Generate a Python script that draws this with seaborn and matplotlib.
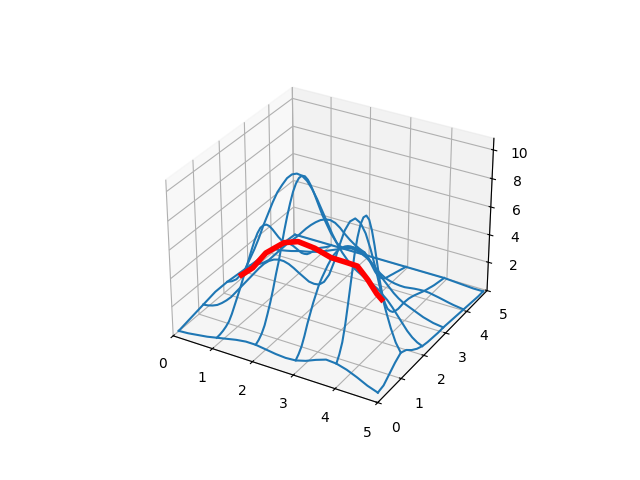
import numpy as np
import matplotlib
matplotlib.use('Agg')
import matplotlib.pyplot as plt
import seaborn as sns

# where the wires sit
wire_x = [0.15, 1.12, 2.09, 3.06, 4.03, 5]
wire_y = [0, 0.96, 1.92, 2.88, 3.84, 4.8]

# wires at constant x, height read along y
x_wires = [
    [.4, .5, .6, .7, .8, .9, 1.0, 1.0, 1.0, .95, .9, .85, .8, .75, .7, .65, .6, .5, .4, .35, .3],
    [.8, .83, .9, 1.02, 1.2, 1.55, 2.0, 2.45, 2.9, 3.4, 3.9, 4.4, 4.9, 5.35, 5.7, 5.9, 5.9, 5.78, 5.5, 5.1, 4.65,
     4.2, 3.8, 3.45, 3.2, 3.0, 2.7, 2.35, 2.0, 1.65, 1.4, 1.2, 1.1, 1.05, 1.0, .9, .8, .65, .5, .38, .3],
    [1.2, 1.35, 1.6, 2.0, 2.6, 3.25, 4.0, 4.85, 5.6, 6.5, 7.4, 8.2, 8.9, 9.5, 9.9, 10.1, 10.1, 9.9, 9.5, 8.95, 8.3,
     7.6, 6.9, 6.2, 5.6, 5.0, 4.4, 3.9, 3.4, 3.0, 2.7, 2.45, 2.3, 2.15, 2.0, 1.78, 1.5, 1.15, .8, .5, .3],
    [1.0, 1.25, 1.6, 2.15, 2.8, 3.35, 3.9, 4.35, 4.8, 5.1, 5.35, 5.6, 5.8, 5.95, 6.0, 6.0, 5.95, 5.85, 5.7, 5.5, 5.25,
     4.95, 4.7, 4.45, 4.2, 3.75, 3.2, 2.65, 2.1, 1.65, 1.3, 1.05, .9, .82, .75, .67, .6, .52, .45, .37, .3],
    [1.7, 2.15, 2.8, 3.85, 5.2, 6.6, 8.0, 9.0, 9.7, 10.0, 9.95, 9.5, 8.6, 7.4, 6.0, 4.65, 3.5, 2.7, 2.1, 1.75, 1.5,
     1.4, 1.35, 1.37, 1.4, 1.38, 1.35, 1.28, 1.2, 1.1, 1.0, .9, .8, .72, .65, .57, .5, .45, .4, .35, .3],
    [.6, .7, 1.1, 1.5, 1.8, 1.6, 1.2, .9, .7, .6, .55, .5, .5, .45, .4, .35, .3, .25, .2, .15, .15],
]

# wires at constant y, height read along x
y_wires = [
    [.4, .45, .55, .65, .8, .95, 1.1, 1.2, 1.2, 1.1, 1.0, .95, 1.0, 1.2, 1.5, 1.75, 1.7, 1.5, 1.2, .85, .6],
    [.8, .85, .95, 1.1, 1.35, 1.65, 2.0, 2.45, 2.9, 3.35, 3.8, 4.25, 4.7, 5.1, 5.4, 5.6, 5.7, 5.7, 5.6, 5.42, 5.2,
     5.0, 4.8, 4.75, 4.8, 5.1, 5.7, 6.7, 7.9, 9.0, 9.7, 10.0, 9.8, 9.2, 8.2, 7.0, 5.6, 4.4, 3.3, 2.4, 1.8],
    [1.0, 1.15, 1.4, 1.85, 2.4, 3.2, 4.0, 4.9, 5.9, 6.8, 7.7, 8.5, 9.1, 9.65, 10.0, 10.15, 10.1, 9.85, 9.4, 8.8, 8.1,
     7.4, 6.7, 6.1, 5.6, 5.2, 4.85, 4.6, 4.4, 4.2, 4.0, 3.8, 3.5, 3.2, 2.8, 2.35, 1.9, 1.45, 1.1, .85, .7],
    [.8, .93, 1.1, 1.32, 1.6, 2.0, 2.4, 2.8, 3.2, 3.55, 3.9, 4.3, 4.7, 5.05, 5.35, 5.6, 5.75, 5.8, 5.7, 5.45, 5.1,
     4.8, 4.55, 4.35, 4.2, 3.8, 3.4, 3.0, 2.6, 2.25, 1.9, 1.62, 1.4, 1.25, 1.1, .95, .8, .7, .6, .55, .5],
    [.6, .64, .7, .77, .85, .95, 1.05, 1.12, 1.2, 1.3, 1.4, 1.55, 1.7, 1.85, 2.0, 2.17, 2.3, 2.35, 2.3, 2.18, 2.0,
     1.72, 1.4, 1.12, .9, .78, .7, .66, .65, .7, .75, .78, .8, .77, .7, .63, .55, .47, .4, .35, .3],
    [.3, .3, .3, .3, .3, .3, .3, .3, .3, .3, .3, .3, .3, .3, .3, .3, .3, .25, .2, .15, .15],
]

# red ridge curve
red_x = [.15, .45, .8, 1.27, 1.63, 2.05, 2.45, 2.82, 3.1, 3.36, 3.58, 3.7]
red_y = [2.5] * 12
red_z = [.63, 1.42, 2.81, 3.95, 4.33, 4.2, 3.87, 3.85, 3.82, 3.06, 2.25, 1.95]

blue = sns.color_palette('tab10')[0]

fig = plt.figure(figsize=(6.4, 4.8), dpi=100)
ax = fig.add_subplot(projection='3d')
ax.set_box_aspect((3.95, 3.97, 3), zoom=0.99)

for x_val, zs in zip(wire_x, x_wires):
    ax.plot([x_val] * len(zs), np.linspace(0, 4.8, len(zs)), zs, color=blue, linewidth=1.5)
for y_val, zs in zip(wire_y, y_wires):
    ax.plot(np.linspace(0.15, 5, len(zs)), [y_val] * len(zs), zs, color=blue, linewidth=1.5)
ax.plot(red_x, red_y, red_z, color='red', linewidth=4)

ax.set_xlim(0, 5)
ax.set_ylim(0, 5)
ax.set_zlim(-0.1, 10.8)
ax.set_zticks([2, 4, 6, 8, 10])

plt.savefig('out.png', dpi=100)
